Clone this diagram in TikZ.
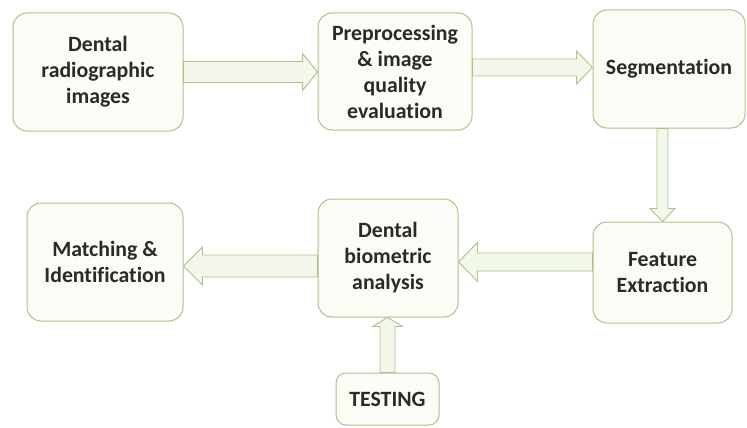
\documentclass[tikz,border=0pt]{standalone}
\usepackage{fontspec}
\setmainfont[Ligatures=NoCommon]{Carlito}
\usetikzlibrary{calc}
\definecolor{bordc}{HTML}{ABC48C}
\definecolor{boxf}{HTML}{FAFCF5}
\definecolor{arrf}{HTML}{F3F8EA}
\definecolor{txtc}{HTML}{2A2A2A}
\tikzset{
  box/.style={draw=bordc, line width=1pt, fill=boxf, rounded corners=14pt,
    align=center, font=\fontsize{21.8}{26}\selectfont\bfseries, text=txtc, inner sep=0pt},
  barrow/.style={draw=bordc, line width=0.9pt, fill=arrf, line join=miter},
}
% start, tip, shaft half width, head half width, head length
\newcommand\blockarr[5]{%
  \coordinate (hb) at ($(#2)!#5!(#1)$);
  \draw[barrow] ($(#1)!#3!90:(#2)$) -- ($(hb)!#3!90:(#2)$) -- ($(hb)!#4!90:(#2)$)
    -- (#2) -- ($(hb)!#4!-90:(#2)$) -- ($(hb)!#3!-90:(#2)$) -- ($(#1)!#3!-90:(#2)$) -- cycle;
}
\begin{document}
\begin{tikzpicture}[x=1pt,y=-1pt]
\useasboundingbox[fill=white] (0,0) rectangle (747,428);
\node[box, minimum width=170pt, minimum height=118pt] (b1) at (98,72) {Dental\\radiographic\\images};
\node[box, minimum width=154pt, minimum height=117pt] (b2) at (395,71.5) {Preprocessing\\\& image\\quality\\evaluation};
\node[box, minimum width=152pt, minimum height=118pt] (b3) at (669,69) {Segmentation};
\node[box, minimum width=139pt, minimum height=101pt] (fe) at (662.5,272.5) {Feature\\Extraction};
\node[box, minimum width=140pt, minimum height=118pt] (dba) at (388,258) {Dental\\biometric\\analysis};
\node[box, minimum width=156pt, minimum height=118pt] (mi) at (105,262) {Matching \&\\Identification};
\node[box, minimum width=103pt, minimum height=52pt, rounded corners=10pt] (ts) at (387.5,399) {TESTING};
% connectors
\coordinate (a1s) at (b1.east);
\coordinate (a1e) at (b2.west |- a1s);
\blockarr{a1s}{a1e}{10.5pt}{18.5pt}{15pt}
\coordinate (a2s) at ([yshift=4pt]b2.east);
\coordinate (a2e) at (b3.west |- a2s);
\blockarr{a2s}{a2e}{8.5pt}{16.5pt}{16pt}
\coordinate (a3s) at (fe.north |- b3.south);
\coordinate (a3e) at (fe.north);
\blockarr{a3s}{a3e}{5.5pt}{12.5pt}{13pt}
\coordinate (a4s) at ([yshift=10.5pt]fe.west);
\coordinate (a4e) at (dba.east |- a4s);
\blockarr{a4s}{a4e}{9pt}{19.5pt}{19pt}
\coordinate (a5s) at ([yshift=-8pt]dba.west);
\coordinate (a5e) at (mi.east |- a5s);
\blockarr{a5s}{a5e}{11pt}{19pt}{19pt}
\coordinate (a6s) at (ts.north);
\coordinate (a6e) at (ts.north |- dba.south);
\blockarr{a6s}{a6e}{7.5pt}{15pt}{9pt}
\end{tikzpicture}
\end{document}
